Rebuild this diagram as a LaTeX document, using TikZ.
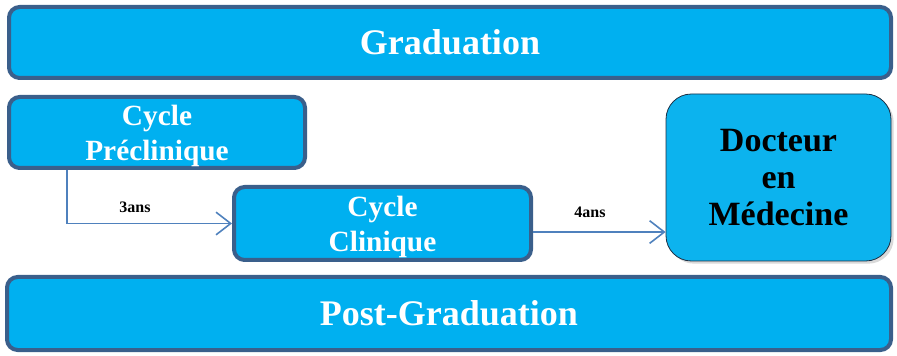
\documentclass[tikz,border=0pt]{standalone}
\usepackage{fontspec}
\setmainfont{Liberation Serif}
\usetikzlibrary{arrows.meta,shadows}
\definecolor{boxfill}{HTML}{00B0F0}
\definecolor{boxline}{HTML}{3A5F8B}
\definecolor{arrline}{HTML}{4F81BD}
\definecolor{doctfill}{HTML}{0CB3EE}
\tikzset{
  cadre/.style={draw=boxline, line width=3pt, fill=boxfill, rounded corners=8pt,
    text=white, align=center, inner sep=0pt},
  fleche/.style={draw=arrline, line width=1.2pt, -{Straight Barb[length=11pt,width=17pt,line width=1.2pt]}},
  duree/.style={font=\bfseries\fontsize{12}{14}\selectfont, text=black}
}
\begin{document}
\begin{tikzpicture}[x=0.75pt,y=-0.75pt]
  \useasboundingbox (0,0) rectangle (897,356);
  % les deux bandeaux
  \node[cadre, minimum width=661.5pt, minimum height=53.25pt,
        font=\bfseries\fontsize{27}{30}\selectfont] (grad) at (450,42.5) {Graduation};
  \node[cadre, minimum width=663pt, minimum height=54.75pt,
        font=\bfseries\fontsize{27}{30}\selectfont] (postgrad) at (449,313.5) {Post-Graduation};
  % les cycles
  \node[cadre, minimum width=222pt, minimum height=53.25pt, text depth=0pt,
        font=\bfseries\fontsize{22}{26.5}\selectfont] (precl) at (157,132.5) {Cycle\\Préclinique};
  \node[cadre, minimum width=222.75pt, minimum height=54.75pt, text depth=0pt,
        font=\bfseries\fontsize{22}{26.5}\selectfont] (clin) at (382.5,223.5) {Cycle\\Clinique};
  \node[draw=boxline!50!black, line width=0.6pt, fill=doctfill, rounded corners=19pt,
        minimum width=168.75pt, minimum height=125.25pt, align=center, inner sep=0pt,
        text depth=-5pt, font=\bfseries\fontsize{25.5}{28}\selectfont,
        drop shadow={opacity=0.3, shadow xshift=2pt, shadow yshift=-2pt}]
        (doct) at (778.5,177.5) {Docteur\\en\\Médecine};
  % fleches
  \coordinate (d3) at ([xshift=-67.5pt]precl.south);
  \draw[fleche] (d3) |- (clin.west);
  \coordinate (d4) at ([yshift=-6.4pt]clin.east);
  \draw[fleche] (d4) -- (d4 -| doct.west);
  \node[duree] (ans3) at (135,207) {3ans};
  \node[duree] (ans4) at (590,212) {4ans};
\end{tikzpicture}
\end{document}
